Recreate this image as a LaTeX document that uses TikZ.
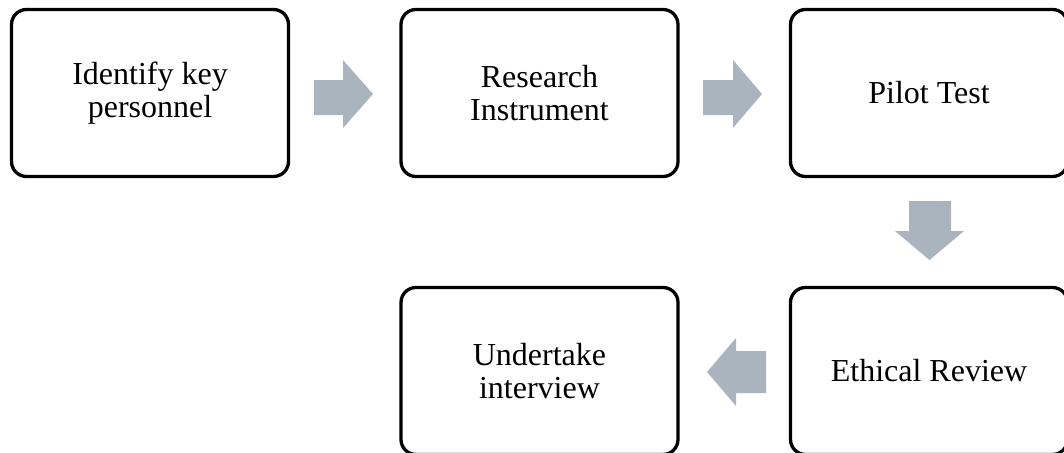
\documentclass[tikz,border=0pt]{standalone}
\usepackage{fontspec}
\setmainfont{Liberation Serif}
\definecolor{arrowgray}{HTML}{A9B4BF}
\begin{document}
\begin{tikzpicture}[x=1pt,y=-1pt,
  stepbox/.style={draw=black,line width=3.3pt,rounded corners=15pt,minimum width=277pt,minimum height=167pt,
    align=center,font=\fontsize{32}{32.5}\selectfont,inner sep=0pt},
  blockarrow/.style={fill=arrowgray,draw=none}]
\useasboundingbox (0,0) rectangle (1064,452);
\begin{scope}
\clip (0,0) rectangle (1064,452);
\node[stepbox] (b1) at (150,93) {Identify key\\personnel};
\node[stepbox] (b2) at (539.5,93) {Research\\Instrument};
\node[stepbox] (b3) at (929,93) {Pilot Test};
\node[stepbox] (b4) at (929,371) {Ethical Review};
\node[stepbox] (b5) at (539.5,371) {Undertake\\interview};
\end{scope}
\fill[blockarrow] (314,80) -- (343,80) -- (343,60) -- (373,94) -- (343,128) -- (343,115) -- (314,115) -- cycle;
\fill[blockarrow] (703,80) -- (733,80) -- (733,60) -- (762,94) -- (733,128) -- (733,115) -- (703,115) -- cycle;
\fill[blockarrow] (909,201) -- (951,201) -- (951,231) -- (964,231) -- (929.5,260) -- (895,231) -- (909,231) -- cycle;
\fill[blockarrow] (766,351) -- (736,351) -- (736,338) -- (707,372) -- (736,406) -- (736,393) -- (766,393) -- cycle;
\end{tikzpicture}
\end{document}
